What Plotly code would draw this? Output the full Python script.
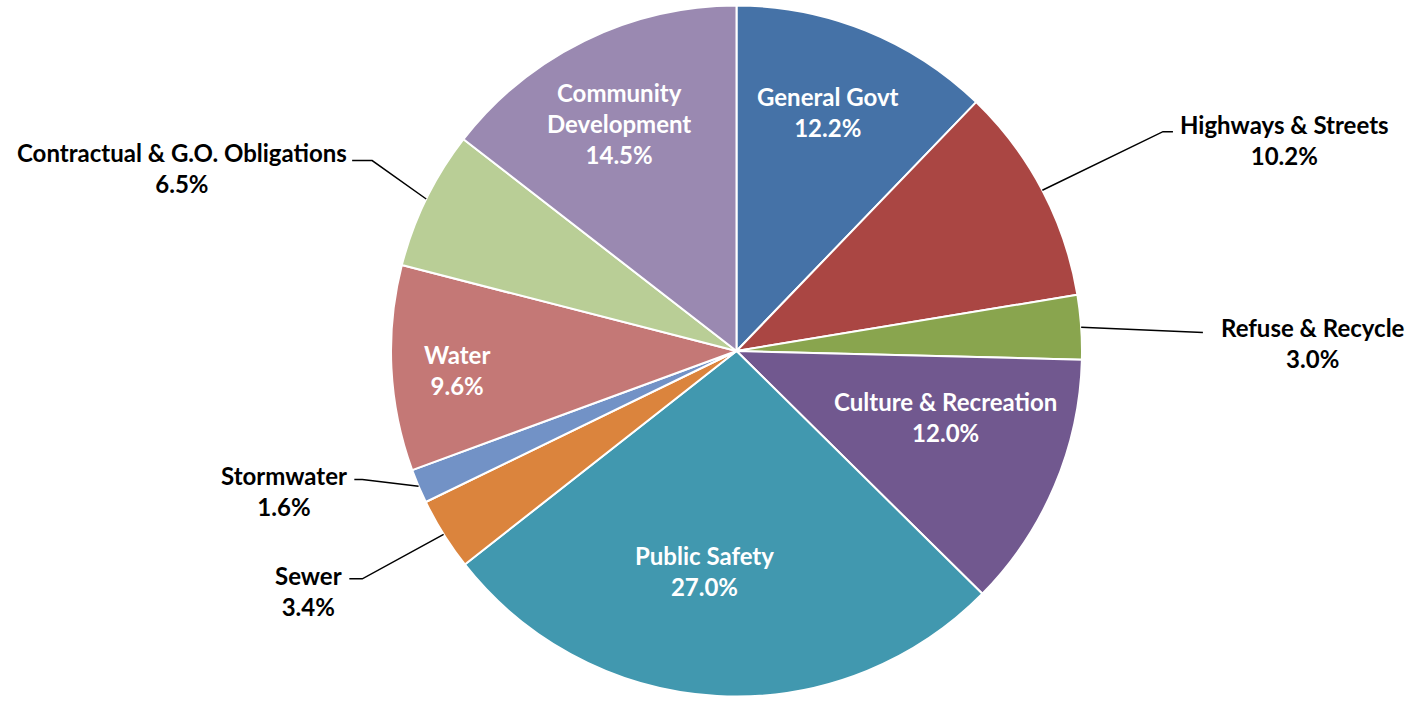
import math
import plotly.graph_objects as go

# Budget share by function, clockwise from 12 o'clock
categories = [
    "General Govt", "Highways & Streets", "Refuse & Recycle",
    "Culture & Recreation", "Public Safety", "Sewer", "Stormwater",
    "Water", "Contractual & G.O. Obligations", "Community Development",
]
shares = [12.2, 10.2, 3.0, 12.0, 27.0, 3.4, 1.6, 9.6, 6.5, 14.5]
label_text = [
    "General Govt", "Highways & Streets", "Refuse & Recycle",
    "Culture & Recreation", "Public Safety", "Sewer", "Stormwater",
    "Water", "Contractual & G.O. Obligations", "Community<br>Development",
]

colors = [
    "#4572A7", "#AA4643", "#89A54E", "#71588F", "#4198AF",
    "#DB843D", "#7292C6", "#C47876", "#B9CE96", "#9A89B1",
]

W, H = 1408, 702
CX, CY, R = 736.5, 351.0, 345.5
FONT = "Lato"
FSIZE = 24

# inside labels: radial fraction + pixel nudge
inside = {
    "General Govt": (0.74, -4, -2),
    "Culture & Recreation": (0.635, 7, -20),
    "Public Safety": (0.64, -20, -1),
    "Water": (0.81, 0, 5),
    "Community Development": (0.74, -5, 2),
}
# outside labels: elbow radius factor, angle nudge (deg), horizontal run (px), gap, line-1 offset
outside = {
    "Highways & Streets": (1.388, 0.5, 10, 5, 7),
    "Refuse & Recycle": (1.351, 1.7, 0, 16, 5),
    "Sewer": (1.268, 0.7, -13, 5, 3),
    "Stormwater": (1.145, 4.1, -8, 5, 4),
    "Contractual & G.O. Obligations": (1.19, 1.5, -20, 3, 8),
}

fig = go.Figure(go.Pie(
    labels=categories,
    values=shares,
    sort=False,
    direction="clockwise",
    rotation=0,
    textinfo="none",
    hoverinfo="label+percent",
    marker=dict(colors=colors, line=dict(color="white", width=2)),
    domain=dict(
        x=[(CX - R) / W, (CX + R) / W],
        y=[1 - (CY + R) / H, 1 - (CY - R) / H],
    ),
    showlegend=False,
))


def to_paper(px, py):
    return px / W, 1 - py / H


def polar(angle_deg, radius):
    a = math.radians(angle_deg)
    return CX + radius * math.sin(a), CY - radius * math.cos(a)


total = sum(shares)
annotations = []
shapes = []
line_h = FSIZE * 1.3
start = 0.0
for name, text, val in zip(categories, label_text, shares):
    span = val / total * 360.0
    mid = start + span / 2
    start += span
    pct = f"{val / total * 100:.1f}%"
    n_lines = text.count("<br>") + 2
    if name in inside:
        f, nx, ny = inside[name]
        px, py = polar(mid, f * R)
        x, y = to_paper(px + nx, py + ny)
        annotations.append(dict(
            x=x, y=y, xref="paper", yref="paper", xanchor="center", yanchor="middle",
            text=f"{text}<br>{pct}", showarrow=False, align="center",
            font=dict(family=FONT, size=FSIZE, color="white", weight="bold"),
        ))
    else:
        k, dth, run, gap, off = outside[name]
        ex, ey = polar(mid, R)
        bx, by = polar(mid + dth, k * R)
        tx = bx + run
        shapes.append(dict(
            type="path", xref="paper", yref="paper",
            path="M {:.5f},{:.5f} L {:.5f},{:.5f} L {:.5f},{:.5f}".format(
                *to_paper(ex, ey), *to_paper(bx, by), *to_paper(tx, by)),
            line=dict(color="black", width=1.5),
        ))
        right_side = run >= 0 and math.sin(math.radians(mid)) > 0
        lx = tx + gap if right_side else tx - gap
        block_cy = by - off + (n_lines - 1) * line_h / 2
        x, y = to_paper(lx, block_cy)
        annotations.append(dict(
            x=x, y=y, xref="paper", yref="paper",
            xanchor="left" if right_side else "right", yanchor="middle",
            text=f"{text}<br>{pct}", showarrow=False, align="center",
            font=dict(family=FONT, size=FSIZE, color="black", weight="bold"),
        ))

fig.update_layout(
    width=W, height=H,
    margin=dict(l=0, r=0, t=0, b=0),
    paper_bgcolor="white", plot_bgcolor="white",
    annotations=annotations, shapes=shapes,
)

fig.write_html("out.html")
